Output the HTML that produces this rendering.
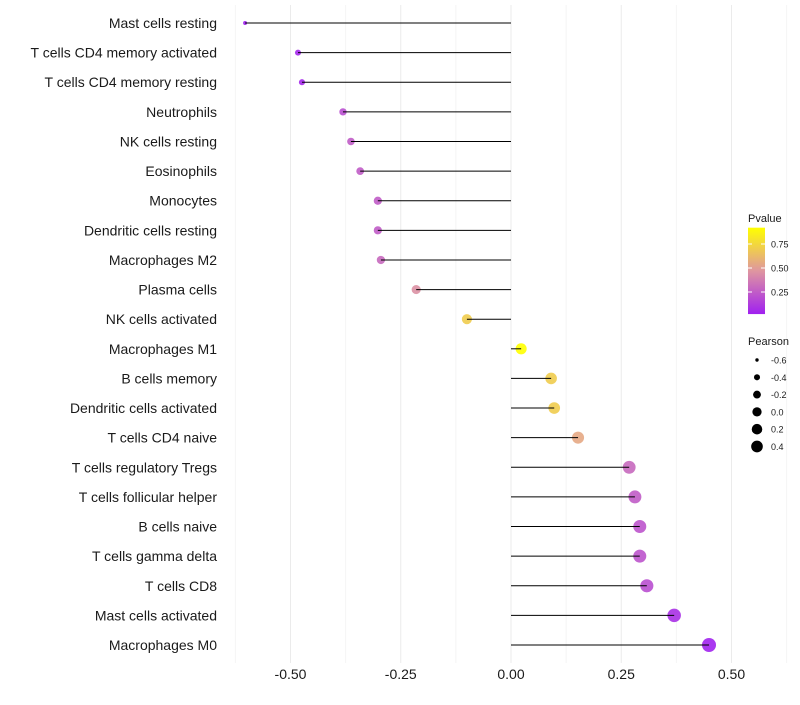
<!DOCTYPE html>
<html><head><meta charset="utf-8"><style>
body{margin:0;background:#fff;font-family:"Liberation Sans",sans-serif}
</style></head><body>
<svg id="c" width="800" height="700" xmlns="http://www.w3.org/2000/svg"></svg>
<script>
const categories=["Mast cells resting","T cells CD4 memory activated","T cells CD4 memory resting","Neutrophils","NK cells resting","Eosinophils","Monocytes","Dendritic cells resting","Macrophages M2","Plasma cells","NK cells activated","Macrophages M1","B cells memory","Dendritic cells activated","T cells CD4 naive","T cells regulatory  Tregs ","T cells follicular helper","B cells naive","T cells gamma delta","T cells CD8","Mast cells activated","Macrophages M0"];
const pearson=[-0.603,-0.483,-0.474,-0.381,-0.363,-0.342,-0.302,-0.302,-0.295,-0.215,-0.100,0.023,0.091,0.098,0.152,0.268,0.281,0.292,0.292,0.308,0.370,0.449];
const pvalue=[0.02,0.05,0.05,0.2,0.25,0.25,0.25,0.25,0.3,0.45,0.7,0.92,0.7,0.7,0.55,0.3,0.25,0.22,0.22,0.2,0.08,0.03];
const xTicks=[-0.5,-0.25,0,0.25,0.5];
const xTickLabels=["-0.50","-0.25","0.00","0.25","0.50"];
const legendP=[0.75,0.5,0.25];
const legendPLabels=["0.75","0.50","0.25"];
const legendS=[-0.6,-0.4,-0.2,0.0,0.2,0.4];
const legendSLabels=["-0.6","-0.4","-0.2","0.0","0.2","0.4"];

const svg=document.getElementById('c');const NS="http://www.w3.org/2000/svg";
function mk(t,a,p){const e=document.createElementNS(NS,t);for(const k in a)e.setAttribute(k,a[k]);(p||svg).appendChild(e);return e;}
const X=v=>511+v*441;
const Y=i=>23+i*(622/21);
const R=v=>Math.sqrt(4+Math.max(0,v+0.6)*43);
function lerp(a,b,t){return a.map((x,i)=>Math.round(x+(b[i]-x)*t));}
function col(p){const t=Math.max(0,Math.min(1,(p-0.02)/0.9));const s=[[160,32,240],[223,150,160],[255,255,0]];
 const c=t<0.5?lerp(s[0],s[1],t*2):lerp(s[1],s[2],(t-0.5)*2);return `rgb(${c})`;}
for(let v=-0.625;v<=0.63;v+=0.125){const g=mk('line',{x1:X(v),x2:X(v),y1:5,y2:663,stroke:Math.abs((v*4)%1)<1e-6?'#ebebeb':'#f4f4f4','stroke-width':1});

}
xTicks.forEach((v,i)=>{const t=mk('text',{x:X(v),y:679,'text-anchor':'middle','font-size':14,fill:'#1a1a1a'});t.textContent=xTickLabels[i];

});
categories.forEach((c,i)=>{
 const t=mk('text',{x:217,y:Y(i)+5,'text-anchor':'end','font-size':14,fill:'#1a1a1a'});t.textContent=c;
 
 
 const p=mk('circle',{cx:X(pearson[i]),cy:Y(i),r:R(pearson[i]),fill:col(pvalue[i]),opacity:0.9});
 
 
 const l=mk('line',{x1:X(0),x2:X(pearson[i]),y1:Y(i),y2:Y(i),stroke:'#000','stroke-width':1});
 
 
});
const lt=mk('text',{x:748,y:222,'font-size':11,fill:'#1a1a1a'});lt.textContent="Pvalue";


const defs=mk('defs',{});const gr=mk('linearGradient',{id:'g',x1:0,y1:1,x2:0,y2:0},defs);
[0,0.25,0.5,0.75,1].forEach(o=>mk('stop',{offset:o,'stop-color':col(0.02+o*0.9)},gr));
const PY=p=>316-p*96;
const bar=mk('rect',{x:748,y:PY(0.92),width:17,height:PY(0.02)-PY(0.92),fill:'url(#g)'});


legendP.forEach((p,i)=>{mk('line',{x1:748,x2:752,y1:PY(p),y2:PY(p),stroke:'#fff'});mk('line',{x1:761,x2:765,y1:PY(p),y2:PY(p),stroke:'#fff'});
 const t=mk('text',{x:771,y:PY(p)+3.5,'font-size':9,fill:'#1a1a1a'});t.textContent=legendPLabels[i];
 
 });
const st=mk('text',{x:748,y:345,'font-size':11,fill:'#1a1a1a'});st.textContent="Pearson";


legendS.forEach((v,i)=>{const y=360+i*17.3;const c=mk('circle',{cx:757,cy:y,r:R(v)*0.85,fill:'#000'});
 
 
 const t=mk('text',{x:771,y:y+3.5,'font-size':9,fill:'#1a1a1a'});t.textContent=legendSLabels[i];
 
 });
</script>
</body></html>
